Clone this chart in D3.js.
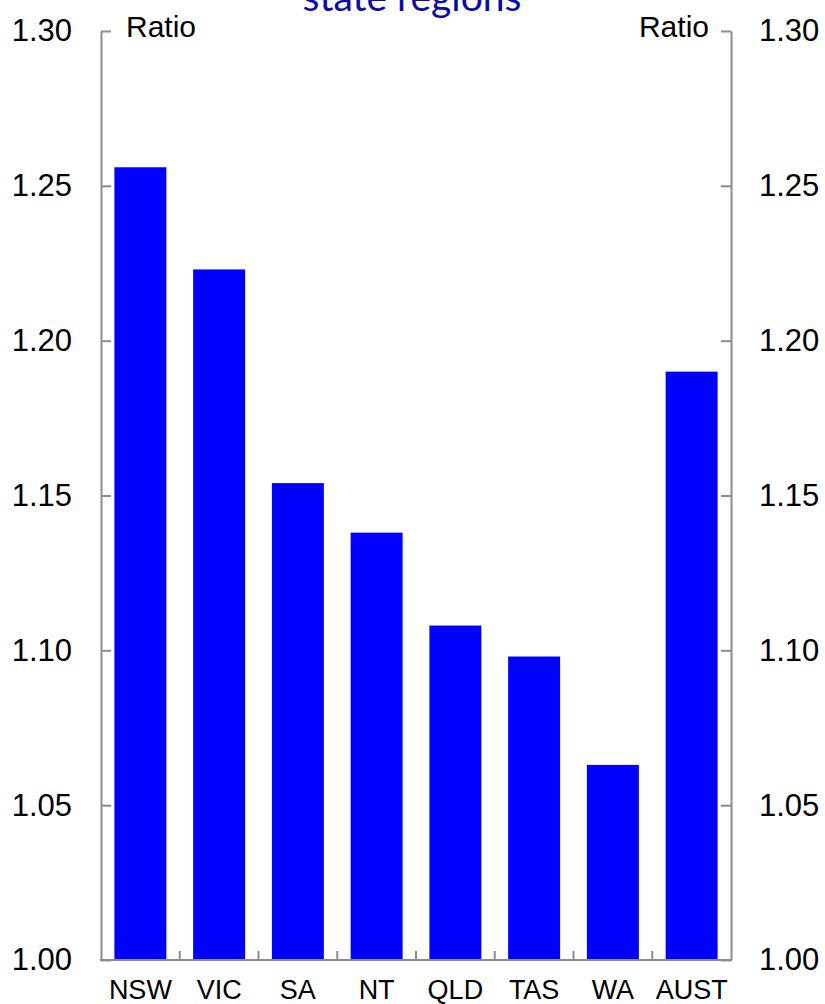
<!DOCTYPE html>
<html><head><meta charset="utf-8">
<script src="https://cdn.jsdelivr.net/npm/d3@7"></script>
<style>body{margin:0;background:#fff}svg{display:block}</style>
</head><body>
<svg id="c" width="825" height="1004"></svg>
<script>
const categories = ["NSW","VIC","SA","NT","QLD","TAS","WA","AUST"];
const values = [1.256, 1.223, 1.154, 1.138, 1.108, 1.098, 1.063, 1.190];
const yTicks = [1.00, 1.05, 1.10, 1.15, 1.20, 1.25, 1.30];
const titleText = "state regions";
const unitLabel = "Ratio";

const svg = d3.select("#c");
const L = 101, R = 731, T = 31, B = 960;
const font = "Arial, 'Liberation Sans', sans-serif";
const grey = "#8c8c8c";

const x = d3.scaleBand().domain(categories).range([L, R]).paddingInner(0.34).paddingOuter(0.17);
const y = d3.scaleLinear().domain([1.0, 1.3]).range([B, T]);

// bars
svg.append("g").selectAll("rect").data(values).join("rect")
  .attr("x", (d,i) => x(categories[i]))
  .attr("width", x.bandwidth())
  .attr("y", d => y(d))
  .attr("height", d => y(1.0) - y(d))
  .attr("fill", "#0000ff");

function styleAxis(g, fs){
  g.select(".domain").attr("stroke", grey).attr("stroke-width", 2);
  g.selectAll(".tick line").attr("stroke", grey).attr("stroke-width", 2);
  g.selectAll(".tick text").attr("fill", "#000").style("font-family", font).style("font-size", fs + "px");
}

const fmt = d3.format(".2f");
const gl = svg.append("g").attr("transform", `translate(${L},0)`)
  .call(d3.axisLeft(y).tickValues(yTicks).tickFormat(fmt).tickSizeInner(-10).tickSizeOuter(0).tickPadding(29));
styleAxis(gl, 31);
const gr = svg.append("g").attr("transform", `translate(${R},0)`)
  .call(d3.axisRight(y).tickValues(yTicks).tickFormat(fmt).tickSizeInner(-10).tickSizeOuter(0).tickPadding(28));
styleAxis(gr, 31);

const gb = svg.append("g").attr("transform", `translate(0,${B})`)
  .call(d3.axisBottom(x).tickSize(0).tickPadding(20));
styleAxis(gb, 27);
gb.select(".domain").attr("d", `M${L-1},0H${R+1}`);

// category separator ticks
const step = x.step();
svg.append("g").selectAll("line").data(categories.slice(1)).join("line")
  .attr("x1", d => x(d) - (step - x.bandwidth())/2)
  .attr("x2", d => x(d) - (step - x.bandwidth())/2)
  .attr("y1", B).attr("y2", B - 9)
  .attr("stroke", grey).attr("stroke-width", 2);

// unit labels
svg.append("text").attr("x", 126).attr("y", 37).text(unitLabel)
  .style("font-family", font).style("font-size", "30px");
svg.append("text").attr("x", 709).attr("y", 37).attr("text-anchor", "end").text(unitLabel)
  .style("font-family", font).style("font-size", "30px");

// title (cut at top, as in the reference)
svg.append("text").attr("x", 412).attr("y", 11).attr("text-anchor", "middle").text(titleText)
  .attr("fill", "#0a0aa5").style("font-family", "Lato, 'Open Sans', sans-serif").style("font-size", "39px");
</script>
</body></html>
